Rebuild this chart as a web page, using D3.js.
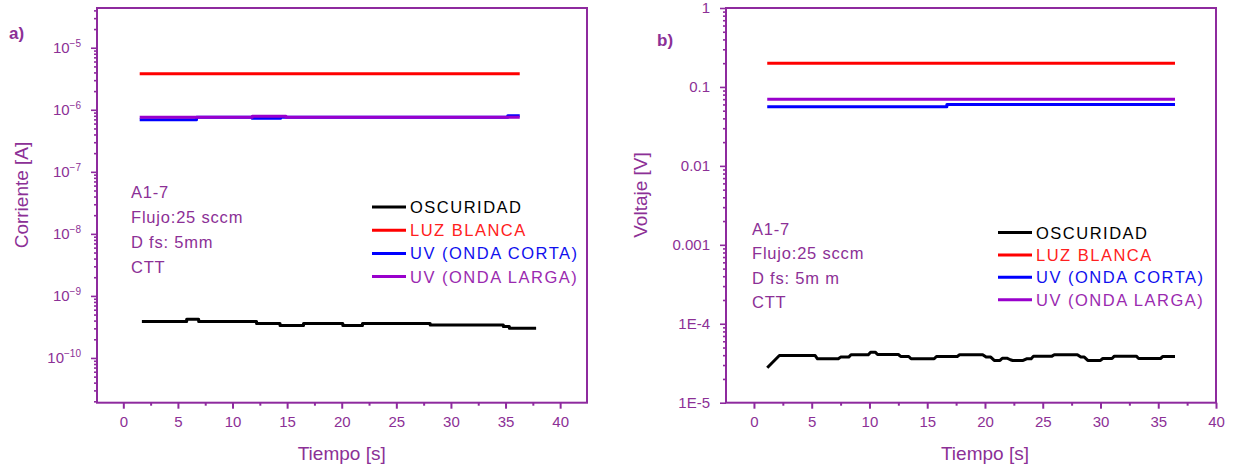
<!DOCTYPE html>
<html><head><meta charset="utf-8">
<script src="https://cdn.jsdelivr.net/npm/d3@7"></script>
<style>
html,body{margin:0;padding:0;background:#fff;}
svg{display:block;font-family:"Liberation Sans",Arial,sans-serif;}
</style></head>
<body>
<svg id="c" width="1233" height="468"></svg>
<script>
// ---------- DATA ----------
const xTickValues = [0,5,10,15,20,25,30,35,40];
const leftYExponents = [-5,-6,-7,-8,-9,-10];
const rightYTicks = [1,0.1,0.01,0.001,1e-4,1e-5];
const rightYTickLabels = ["1","0.1","0.01","0.001","1E-4","1E-5"];
const seriesNames = ["OSCURIDAD","LUZ BLANCA","UV (ONDA CORTA)","UV (ONDA LARGA)"];
const infoLines = ["A1-7","Flujo:25 sccm","D fs: 5mm","CTT"];
const infoLinesB = ["A1-7","Flujo:25 sccm","D fs: 5m m","CTT"];

// panel a) current [A] vs time [s] (step traces)
const aTimeDark = [1.7,5.8,6.9,12.2,14.35,16.5,20.1,21.9,28.1,34.8,35.35,37.8];
const aCurDark  = [3.86e-10,4.2e-10,3.86e-10,3.58e-10,3.32e-10,3.58e-10,3.32e-10,3.58e-10,3.4e-10,3.2e-10,3.0e-10,3.0e-10];
const aTimeWhite = [1.5,36.3];
const aCurWhite  = [3.8e-6,3.8e-6];
const aTimeShort = [1.5,6.7,11.8,14.4,35.2,36.3];
const aCurShort  = [6.9e-7,7.6e-7,7.3e-7,7.6e-7,8.0e-7,8.0e-7];
const aTimeLong  = [1.5,11.8,14.9,36.3];
const aCurLong   = [7.6e-7,7.9e-7,7.6e-7,7.6e-7];

// panel b) voltage [V] vs time [s]
const bTimeDark = [1.15,2.2,5.3,5.5,7.3,7.5,8.2,8.4,9.9,10.1,10.5,10.7,12.5,12.7,13.4,13.6,15.6,15.8,17.6,17.8,19.8,20.1,20.5,20.8,21.3,21.5,21.9,22.2,22.4,23.3,23.6,24.0,24.2,25.8,26.0,28.0,28.3,28.6,28.9,30.0,30.2,31.0,31.2,33.1,33.3,35.2,35.4,36.45];
const bVoltDark = [2.77e-5,3.96e-5,3.96e-5,3.6e-5,3.6e-5,3.78e-5,3.78e-5,4.05e-5,4.05e-5,4.37e-5,4.37e-5,4.08e-5,4.08e-5,3.85e-5,3.85e-5,3.6e-5,3.6e-5,3.85e-5,3.85e-5,4.05e-5,4.05e-5,3.78e-5,3.78e-5,3.43e-5,3.43e-5,3.66e-5,3.66e-5,3.5e-5,3.43e-5,3.43e-5,3.6e-5,3.6e-5,3.89e-5,3.89e-5,4.05e-5,4.05e-5,3.78e-5,3.78e-5,3.43e-5,3.43e-5,3.63e-5,3.63e-5,3.89e-5,3.89e-5,3.63e-5,3.63e-5,3.85e-5,3.85e-5];
const bTimeWhite = [1.15,36.45];
const bVoltWhite = [0.2,0.2];
const bTimeShort = [1.15,16.7,16.7,36.45];
const bVoltShort = [0.056,0.056,0.060,0.060];
const bTimeLong  = [1.15,36.45];
const bVoltLong  = [0.07,0.07];

const seriesColors = ["#000000","#ff0000","#0000ff","#9900cc"];
const textColors   = ["#000000","#ff2020","#1010ee","#9a2ab0"];
const axisColor = "#8e2a9e";
const labelColor = "#8c3096";

// ---------- DRAW ----------
const svg = d3.select("#c");

function panel(cfg){
  const g = svg.append("g");
  const x = d3.scaleLinear().domain(cfg.xDomain).range([cfg.left,cfg.right]);
  const y = d3.scaleLog().domain(cfg.yDomain).range([cfg.bottom,cfg.top]);

  // series
  const line = d3.line().x(d=>x(d[0])).y(d=>y(d[1])).curve(cfg.curve);
  cfg.series.forEach((s,i)=>{
    const pts = s.t.map((t,k)=>[t,s.v[k]]);
    g.append("path").attr("d",line(pts)).attr("fill","none")
      .attr("stroke",s.color).attr("stroke-width",3).attr("stroke-linejoin","round");
  });

  // frame
  g.append("rect").attr("x",cfg.left).attr("y",cfg.top)
    .attr("width",cfg.right-cfg.left).attr("height",cfg.bottom-cfg.top)
    .attr("fill","none").attr("stroke",axisColor).attr("stroke-width",2);

  // x axis
  const xa = d3.axisBottom(x).tickValues(xTickValues).tickSize(6).tickSizeOuter(0).tickPadding(8).tickFormat(d3.format("d"));
  const xg = g.append("g").attr("transform",`translate(0,${cfg.bottom})`).call(xa);
  const minorX = d3.range(2.5,cfg.xDomain[1],5).filter(v=>v>cfg.xDomain[0]);
  const xm = d3.axisBottom(x).tickValues(minorX).tickSize(3).tickFormat("");
  const xmg = g.append("g").attr("transform",`translate(0,${cfg.bottom})`).call(xm);
  [xg,xmg].forEach(a=>{a.select(".domain").remove();
    a.selectAll("line").attr("stroke",axisColor).attr("stroke-width",2);
    a.selectAll("text").attr("fill",labelColor).attr("font-size",15).attr("font-family","Liberation Sans, Arial, sans-serif");});

  // y axis
  const ya = d3.axisLeft(y).tickValues(cfg.yTicks).tickSize(6).tickSizeOuter(0).tickPadding(cfg.yPad).tickFormat(()=>"");
  const yg = g.append("g").attr("transform",`translate(${cfg.left},0)`).call(ya);
  const minorY = [];
  const lo = Math.floor(Math.log10(cfg.yDomain[0])), hi = Math.ceil(Math.log10(cfg.yDomain[1]));
  for(let e=lo;e<=hi;e++) for(let m=2;m<=9;m++){const v=m*Math.pow(10,e); if(v>=cfg.yDomain[0]&&v<=cfg.yDomain[1]) minorY.push(v);}
  const ym = d3.axisLeft(y).tickValues(minorY).tickSize(3).tickFormat("");
  const ymg = g.append("g").attr("transform",`translate(${cfg.left},0)`).call(ym);
  [yg,ymg].forEach(a=>{a.select(".domain").remove();
    a.selectAll("line").attr("stroke",axisColor).attr("stroke-width",1.6);});
  yg.selectAll(".tick text").each(function(d,i){
    const t = d3.select(this).attr("fill",labelColor).attr("font-size",15)
      .attr("font-family","Liberation Sans, Arial, sans-serif");
    cfg.yLabel(t,d,i);
  });

  // axis titles
  g.append("text").attr("x",(x(0)+x(40))/2 - cfg.titleShift).attr("y",cfg.bottom+57)
    .attr("text-anchor","middle").attr("fill",labelColor).attr("font-size",19).text("Tiempo [s]");
  g.append("text").attr("transform",`translate(${cfg.yTitleX},${cfg.yTitleY}) rotate(-90)`)
    .attr("text-anchor","middle").attr("fill",labelColor).attr("font-size",19).text(cfg.yTitle);

  // panel letter
  g.append("text").attr("x",cfg.letterX).attr("y",cfg.letterY).attr("fill",labelColor)
    .attr("font-size",17).attr("font-weight","bold").text(cfg.letter);

  // info block
  cfg.info.forEach((s,i)=>{
    g.append("text").attr("x",cfg.infoX).attr("y",cfg.infoY+i*cfg.infoStep)
      .attr("fill",labelColor).attr("font-size",16.5).attr("letter-spacing",0.8).text(s);
  });

  // legend
  seriesNames.forEach((n,i)=>{
    const yy = cfg.legY + i*cfg.legStep;
    g.append("line").attr("x1",cfg.legX).attr("x2",cfg.legX+cfg.legLen).attr("y1",yy).attr("y2",yy)
      .attr("stroke",seriesColors[i]).attr("stroke-width",3);
    g.append("text").attr("x",cfg.legX+cfg.legLen+4).attr("y",yy+6)
      .attr("fill",textColors[i]).attr("font-size",16.5).attr("letter-spacing",1.5).text(n);
  });
}

panel({
  left:97,right:587,top:8,bottom:402.7,
  xDomain:[-2.41,42.46], yDomain:[1.9e-11,4.37e-5],
  yTicks: leftYExponents.map(e=>Math.pow(10,e)), yPad:10,
  curve:d3.curveStepAfter,
  series:[
    {t:aTimeShort,v:aCurShort,color:seriesColors[2]},
    {t:aTimeLong,v:aCurLong,color:seriesColors[3]},
    {t:aTimeWhite,v:aCurWhite,color:seriesColors[1]},
    {t:aTimeDark,v:aCurDark,color:seriesColors[0]}
  ],
  yLabel:(t,d,i)=>{
    t.text(null);
    t.append("tspan").text("10");
    t.append("tspan").attr("dy",-6).attr("font-size",10).text(String(leftYExponents[i]).replace("-","\u2212"));
  },
  titleShift:0, yTitle:"Corriente [A]", yTitleX:28, yTitleY:195,
  letter:"a)", letterX:9, letterY:39,
  info:infoLines, infoX:131, infoY:198, infoStep:25,
  legX:372, legLen:34, legY:207, legStep:23.2
});

panel({
  left:726,right:1216,top:8,bottom:402.7,
  xDomain:[-2.42,40], yDomain:[1e-5,1],
  yTicks: rightYTicks, yPad:10,
  curve:d3.curveLinear,
  series:[
    {t:bTimeShort,v:bVoltShort,color:seriesColors[2]},
    {t:bTimeLong,v:bVoltLong,color:seriesColors[3]},
    {t:bTimeWhite,v:bVoltWhite,color:seriesColors[1]},
    {t:bTimeDark,v:bVoltDark,color:seriesColors[0]}
  ],
  yLabel:(t,d,i)=>{ t.text(rightYTickLabels[i]); },
  titleShift:0, yTitle:"Voltaje [V]", yTitleX:647, yTitleY:195,
  letter:"b)", letterX:657, letterY:46,
  info:infoLinesB, infoX:752, infoY:235, infoStep:24.3,
  legX:998, legLen:34, legY:232.5, legStep:22.4
});
</script>
</body></html>
